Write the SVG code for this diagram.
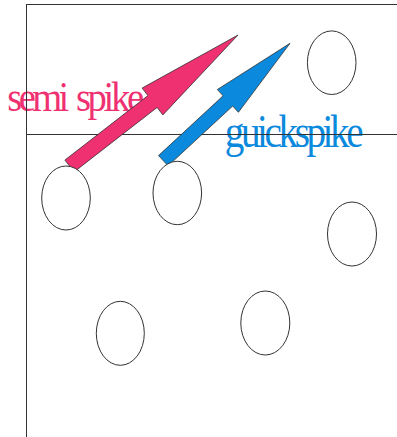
<svg xmlns="http://www.w3.org/2000/svg" width="397" height="437" viewBox="0 0 397 437">
<style>
.lbl{font-family:"Liberation Serif","Times New Roman",serif;}
.frame{stroke:#333;stroke-width:1;fill:none;}
.node{fill:#fff;stroke:#333;stroke-width:1;}
.arrow{stroke:#333;stroke-width:0.8;stroke-linejoin:miter;}
</style>
<rect width="397" height="437" fill="#fff"/>
<g id="labels">
<text class="lbl" transform="translate(0,111) scale(0.92,1)" font-size="42" fill="#ef3172"><tspan x="8" letter-spacing="-4">semi</tspan> <tspan x="82.5" letter-spacing="-3.6">spike</tspan></text>
<text class="lbl" transform="translate(0,146.5) scale(0.85,1)" x="264.5" font-size="46" letter-spacing="-4" fill="#0a89dd">guickspike</text>
</g>
<g id="frame">
<line class="frame" x1="26.5" y1="4" x2="26.5" y2="437"/>
<line class="frame" x1="26" y1="4.5" x2="397" y2="4.5"/>
<line class="frame" x1="26" y1="134.5" x2="397" y2="134.5" stroke="#666"/>
</g>
<g id="connectors">
<polygon class="arrow" fill="#ef3172" points="64.9,160.1 147.9,95.6 142.1,88.1 238,35 162.9,114.9 157.1,107.4 74.1,171.9"/>
<polygon class="arrow" fill="#0a89dd" points="158.5,155.6 223.1,95.8 217.4,89.5 290,43.3 238.4,112.3 232.7,106 168.1,165.8"/>
</g>
<g id="n1"><ellipse class="node" cx="66" cy="198" rx="24.3" ry="32"/></g>
<g id="n2"><ellipse class="node" cx="177.3" cy="193" rx="24.3" ry="31.7"/></g>
<g id="n3"><ellipse class="node" cx="352" cy="234" rx="24.5" ry="32"/></g>
<g id="n4"><ellipse class="node" cx="120.3" cy="333.3" rx="24" ry="32"/></g>
<g id="n5"><ellipse class="node" cx="265.3" cy="323" rx="24.5" ry="32"/></g>
<g id="n6"><ellipse class="node" cx="331.7" cy="62.7" rx="24.3" ry="31.8"/></g>
</svg>
